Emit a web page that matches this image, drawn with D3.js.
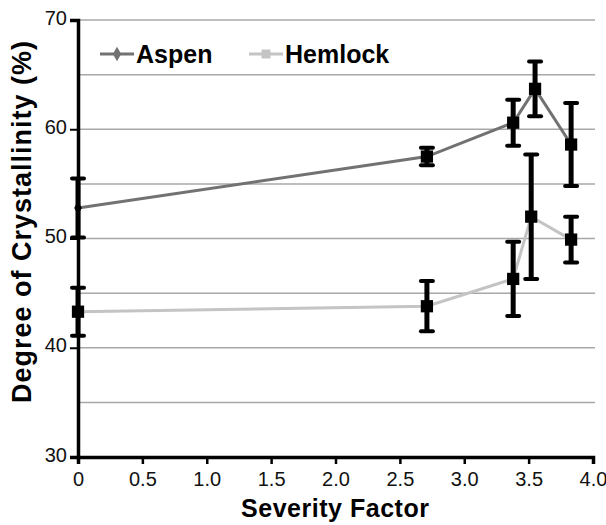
<!DOCTYPE html>
<html>
<head>
<meta charset="utf-8">
<script src="https://cdn.jsdelivr.net/npm/d3@7"></script>
<style>
  body { margin: 0; background: #fff; }
  svg { display: block; font-family: "Liberation Sans", Arial, sans-serif; }
</style>
</head>
<body>
<div id="chart"></div>
<script>
// severity factor, crystallinity (%) and error (+/-)
var aspenX = [0, 2.71, 3.38, 3.55, 3.83];
var aspenY = [52.8, 57.5, 60.6, 63.7, 58.6];
var aspenErr = [2.7, 0.8, 2.1, 2.5, 3.8];

var hemlockX = [0, 2.71, 3.38, 3.52, 3.83];
var hemlockY = [43.3, 43.8, 46.3, 52.0, 49.9];
var hemlockErr = [2.2, 2.3, 3.4, 5.7, 2.1];

var xTicks = [0, 0.5, 1.0, 1.5, 2.0, 2.5, 3.0, 3.5, 4.0];
var yTicks = [30, 40, 50, 60, 70];
var yGrid = [35, 40, 45, 50, 55, 60, 65, 70];

var width = 606, height = 525;
var plotLeft = 78, plotRight = 593, plotTop = 20, plotBottom = 457;

var svg = d3.select("#chart").append("svg")
    .attr("width", width)
    .attr("height", height);

var xScale = d3.scaleLinear().domain([0, 4]).range([plotLeft, plotRight]);
var yScale = d3.scaleLinear().domain([30, 70]).range([plotBottom, plotTop]);

// gridlines
svg.append("g").selectAll("line")
    .data(yGrid)
    .enter().append("line")
    .attr("x1", plotLeft).attr("x2", plotRight + 2)
    .attr("y1", function(d) { return yScale(d); })
    .attr("y2", function(d) { return yScale(d); })
    .attr("stroke", "#a8a8a8")
    .attr("stroke-width", 1.5);

// axes
var xAxis = svg.append("g")
    .attr("transform", "translate(0," + plotBottom + ")")
    .call(d3.axisBottom(xScale).tickValues(xTicks)
        .tickFormat(function(d) { return d === 0 ? "0" : d3.format(".1f")(d); })
        .tickSize(7).tickPadding(8));
xAxis.select(".domain").attr("stroke", "#000").attr("stroke-width", 3.5);
xAxis.selectAll(".tick line").attr("stroke", "#000").attr("stroke-width", 2.5);
xAxis.selectAll(".tick text").attr("font-size", 20).attr("fill", "#111");

var yAxis = svg.append("g")
    .attr("transform", "translate(" + plotLeft + ",0)")
    .call(d3.axisLeft(yScale).tickValues(yTicks).tickSize(8).tickPadding(3));
yAxis.select(".domain").attr("stroke", "#000").attr("stroke-width", 3.5);
yAxis.selectAll(".tick line").attr("stroke", "#000").attr("stroke-width", 2);
yAxis.selectAll(".tick text").attr("font-size", 20).attr("fill", "#111").attr("dy", "0.2em");

// series
var series = [
    { name: "Aspen", x: aspenX, y: aspenY, err: aspenErr, color: "#727272" },
    { name: "Hemlock", x: hemlockX, y: hemlockY, err: hemlockErr, color: "#c4c4c4" }
];

var line = d3.line()
    .x(function(d) { return xScale(d.x); })
    .y(function(d) { return yScale(d.y); });

series.forEach(function(s) {
    s.points = s.x.map(function(v, i) { return { x: v, y: s.y[i], e: s.err[i] }; });
    svg.append("path")
        .datum(s.points)
        .attr("d", line)
        .attr("fill", "none")
        .attr("stroke", s.color)
        .attr("stroke-width", 3);
});

series.forEach(function(s, si) {
    var g = svg.append("g");
    g.selectAll(".bar").data(s.points).enter().append("line")
        .attr("x1", function(d) { return xScale(d.x); })
        .attr("x2", function(d) { return xScale(d.x); })
        .attr("y1", function(d) { return yScale(d.y + d.e); })
        .attr("y2", function(d) { return yScale(d.y - d.e); })
        .attr("stroke", "#000").attr("stroke-width", 5);
    [1, -1].forEach(function(sign) {
        g.selectAll(".cap" + sign).data(s.points).enter().append("line")
            .attr("x1", function(d) { return xScale(d.x) - 6; })
            .attr("x2", function(d) { return xScale(d.x) + 6; })
            .attr("y1", function(d) { return yScale(d.y + sign * d.e); })
            .attr("y2", function(d) { return yScale(d.y + sign * d.e); })
            .attr("stroke", "#000").attr("stroke-width", 4)
            .attr("stroke-linecap", "round");
    });
    g.selectAll(".mark").data(s.points).enter().append("path")
        .attr("transform", function(d) { return "translate(" + xScale(d.x) + "," + yScale(d.y) + ")"; })
        .attr("d", function(d, i) {
            if (si === 0 && i === 0) return d3.symbol(d3.symbolDiamond, 50)();
            return d3.symbol(d3.symbolSquare, 150)();
        })
        .attr("fill", "#000");
});

// legend
var legend = svg.append("g");
var legendPos = [100, 249];
series.forEach(function(s, i) {
    var lx = legendPos[i], ly = 54;
    legend.append("line")
        .attr("x1", lx).attr("x2", lx + 34)
        .attr("y1", ly).attr("y2", ly)
        .attr("stroke", s.color).attr("stroke-width", 3);
    legend.append("path")
        .attr("transform", "translate(" + (lx + 17) + "," + ly + ")")
        .attr("d", d3.symbol(i === 0 ? d3.symbolDiamond : d3.symbolSquare, i === 0 ? 60 : 80)())
        .attr("fill", s.color);
    legend.append("text")
        .attr("x", lx + 36).attr("y", ly + 9)
        .attr("font-size", 25).attr("font-weight", "bold")
        .attr("fill", "#000")
        .text(s.name);
});

// axis titles
svg.append("text")
    .attr("x", 335).attr("y", 517)
    .attr("text-anchor", "middle")
    .attr("font-size", 25).attr("font-weight", "bold")
    .attr("textLength", 188)
    .text("Severity Factor");

svg.append("text")
    .attr("transform", "translate(31," + 222 + ") rotate(-90)")
    .attr("text-anchor", "middle")
    .attr("font-size", 27).attr("font-weight", "bold")
    .attr("textLength", 362)
    .text("Degree of Crystallinity (%)");
</script>
</body>
</html>
